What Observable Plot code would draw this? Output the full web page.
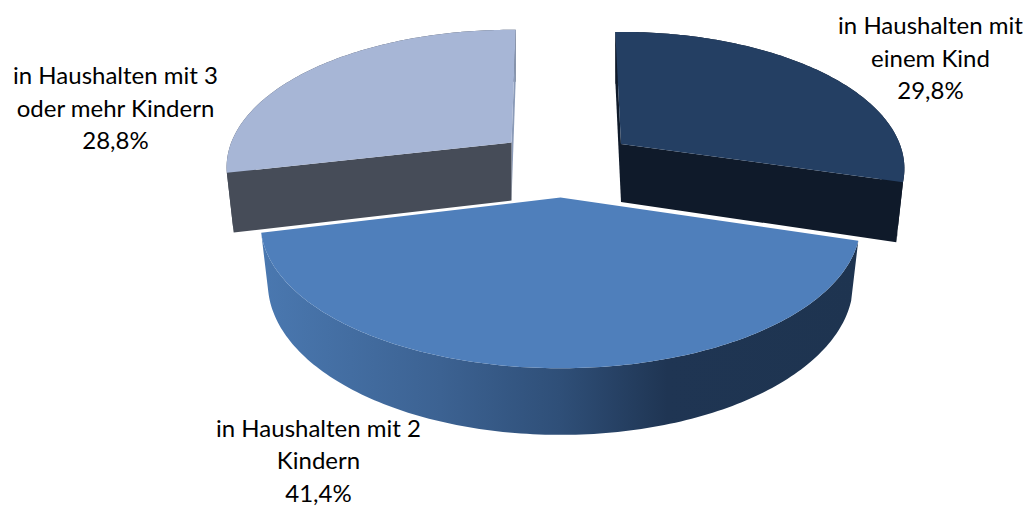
<!DOCTYPE html>
<html>
<head>
<meta charset="utf-8">
<script src="https://cdn.jsdelivr.net/npm/d3@7"></script>
<script src="https://cdn.jsdelivr.net/npm/@observablehq/plot@0.6"></script>
<style>
  html, body { margin: 0; padding: 0; background: #fff; }
  svg { display: block; }
</style>
</head>
<body>
<script>
// Data
const categories = ["in Haushalten mit\neinem Kind", "in Haushalten mit 2\nKindern", "in Haushalten mit 3\noder mehr Kindern"];
const shares = [29.8, 41.4, 28.8];

// Styling of each slice
const topColors = ["#243f63", "#4f7fbb", "#a7b6d6"];
const faceColors = ["#0f1a2a", "none", "#464c58"];
const sliverColors = ["#0f1a2a", "none", "#8b9bb8"];

// 3D pie layout: apex of each exploded slice, scale and rotation
const apexX = [620.5, 560, 511];
const apexY = [143.5, 197, 142];
const sliceScale = [0.945, 1, 0.95];
const sliceRotate = [-1.1, 0, 1.3];
const labelX = [930, 318, 115];
const labelY = [56, 458.5, 106];
const radiusX = 295, radiusY = 140, perspective = 0.18, depth = 58, taper = 0.976;
const firstEnd = 17; // angle (deg, clockwise from east) where the first slice ends

const sweep = shares.map((s) => (s / d3.sum(shares)) * 360);
const ranges = [
  [firstEnd - sweep[0], firstEnd],
  [firstEnd, firstEnd + sweep[1]],
  [firstEnd + sweep[1], firstEnd + sweep[1] + sweep[2]]
];

function project(i, deg, h) {
  const t = ((deg + sliceRotate[i]) * Math.PI) / 180;
  const u = Math.cos(t), v = Math.sin(t);
  const s = 1 / (1 - perspective * v);
  const f = h ? taper : 1;
  const dx = radiusX * sliceScale[i] * u * s * f;
  const dy = radiusY * sliceScale[i] * v * s * f + (h ? depth * s : 0);
  return {x: apexX[i] + dx, y: apexY[i] + dy};
}
function arc(i, a, b, h) {
  const n = Math.ceil(Math.abs(b - a));
  return d3.range(n + 1).map((k) => project(i, a + ((b - a) * k) / n, h));
}
const apex = (i, h) => ({x: apexX[i], y: apexY[i] + (h ? depth : 0)});
const poly = (points, fill) => Plot.line(points, {x: "x", y: "y", fill, stroke: "none", curve: "linear-closed"});

function sideSlice(i, endDeg, farDeg) {
  const [a, b] = ranges[i];
  return [
    // outer wall
    poly([...arc(i, a, b, 0), ...arc(i, b, a, 1)], faceColors[i]),
    // cut face reaching to the far edge (thin sliver)
    poly([project(i, farDeg, 0), project(i, farDeg, 1), apex(i, 1), apex(i, 0)], sliverColors[i]),
    // front cut face
    poly([apex(i, 0), project(i, endDeg, 0), project(i, endDeg, 1), apex(i, 1)], faceColors[i]),
    // top surface
    poly([apex(i, 0), ...arc(i, a, b, 0)], topColors[i])
  ];
}

const [a1, b1] = ranges[1];
const gradient = () => {
  const defs = d3.create("svg:defs");
  const g = defs.append("linearGradient").attr("id", "wall").attr("x1", 0).attr("x2", 1).attr("y1", 0).attr("y2", 0);
  [[0, "#4a78b0"], [0.3, "#3c6292"], [0.5, "#2f4f78"], [0.68, "#1f3553"], [1, "#1e3450"]]
    .forEach(([o, c]) => g.append("stop").attr("offset", o).attr("stop-color", c));
  return defs.node();
};

const labels = shares.map((s, i) => ({
  text: categories[i] + "\n" + s.toFixed(1).replace(".", ",") + "%",
  x: labelX[i], y: labelY[i]
}));

const chart = Plot.plot({
  width: 1034,
  height: 506,
  margin: 0,
  style: {background: "#fff"},
  x: {domain: [0, 1034], range: [0, 1034], axis: null},
  y: {domain: [0, 506], range: [0, 506], axis: null},
  marks: [
    gradient,
    ...sideSlice(0, ranges[0][1], ranges[0][0]),
    ...sideSlice(2, ranges[2][0], ranges[2][1]),
    poly([...arc(1, a1, b1, 0), ...arc(1, b1, a1, 1)], "url(#wall)"),
    poly([apex(1, 0), ...arc(1, a1, b1, 0)], topColors[1]),
    Plot.text(labels, {
      x: "x", y: "y", text: "text", fontSize: 24, lineHeight: 1.354,
      fontFamily: "Lato", fill: "#000", textAnchor: "middle", lineAnchor: "middle"
    })
  ]
});
document.body.appendChild(chart);
</script>
</body>
</html>
